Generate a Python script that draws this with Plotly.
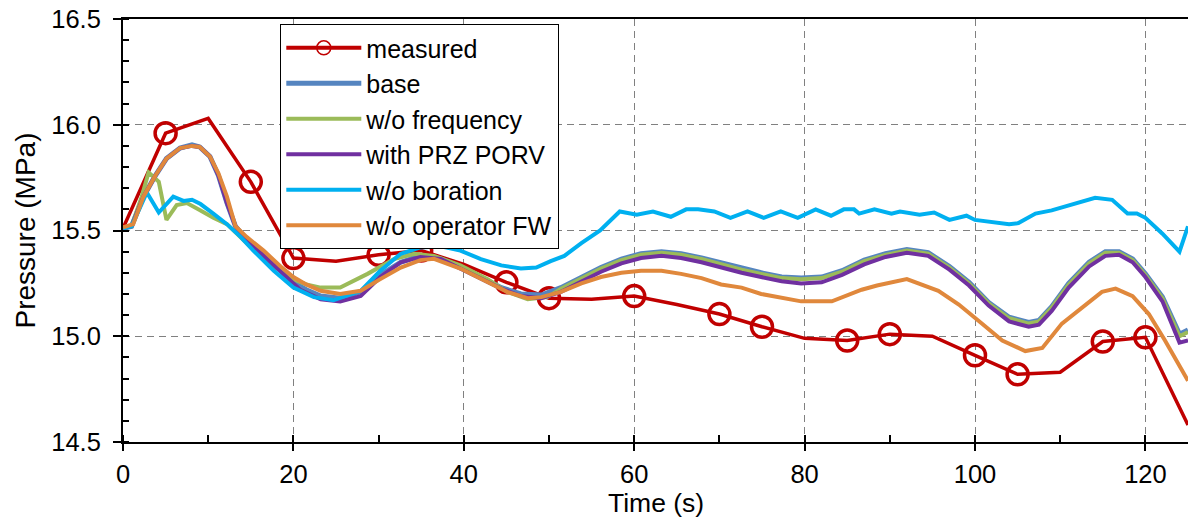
import plotly.graph_objects as go

# ---- measured plant data (every 5 s) ----
meas_t = [0, 5, 10, 15, 20, 25, 30, 35, 40, 45, 50, 55, 60, 65, 70, 75, 80, 85,
          90, 95, 100, 105, 110, 115, 120, 125]
meas_p = [15.51, 15.96, 16.03, 15.73, 15.37, 15.355, 15.385, 15.405, 15.34, 15.255,
          15.18, 15.175, 15.19, 15.15, 15.105, 15.045, 14.99, 14.98, 15.01, 15.0,
          14.91, 14.82, 14.83, 14.975, 14.995, 14.58]
meas_marked = [0, 1, 0, 1, 1, 0, 1, 1, 0, 1, 1, 0, 1, 0, 1, 1, 0, 1, 1, 0, 1, 1, 0, 1, 1, 0]

# ---- simulation cases ----
base_t = [0, 1, 2.4, 3.8, 5.1, 6.7, 8.1, 9.0, 10.2, 11.2, 12.2, 13.2, 14.5, 16.5, 18.5,
          20, 21.5, 23.2, 25.5, 27.9, 30.2, 32.6, 34.9, 37.3, 39.6, 42, 44.4, 46.7,
          49.1, 51.4, 53.8, 56.1, 58.5, 60.8, 63.2, 65.5, 67.9, 70.2, 72.6, 74.9,
          77.3, 79.6, 82, 84.4, 87, 89.5, 92, 94.5, 97, 99.3, 101.6, 104, 106.3,
          107.5, 109, 111, 113.4, 115.3, 116.9, 118.5, 120, 122, 124, 125]
base_p = [15.51, 15.52, 15.66, 15.76, 15.84, 15.89, 15.905, 15.895, 15.85, 15.76,
          15.63, 15.52, 15.46, 15.385, 15.305, 15.255, 15.22, 15.19, 15.18, 15.21,
          15.29, 15.35, 15.38, 15.365, 15.33, 15.28, 15.23, 15.2, 15.195, 15.23,
          15.28, 15.325, 15.365, 15.39, 15.4, 15.39, 15.37, 15.345, 15.32, 15.3,
          15.28, 15.275, 15.28, 15.31, 15.36, 15.39, 15.41, 15.395, 15.33, 15.255,
          15.16, 15.09, 15.065, 15.075, 15.14, 15.25, 15.35, 15.4, 15.4, 15.365,
          15.295, 15.185, 15.01, 15.03]

nofreq_t = [0, 1, 2.2, 3.0, 4.2, 5.1, 6.3, 7.5, 9.1, 10.6, 12.2, 13.8, 15.3, 17.7, 20,
            21.5, 23.2, 25.5, 28.7, 31.8, 34.2, 36.5, 39.6, 42.8, 45.1, 47.5, 49.8,
            51.4, 53.8, 56.1, 58.5, 60.8, 63.2, 65.5, 67.9, 70.2, 72.6, 74.9, 77.3,
            79.6, 82, 84.4, 87, 89.5, 92, 94.5, 97, 99.3, 101.6, 104, 106.3, 107.5,
            109, 111, 113.4, 115.3, 116.9, 118.5, 120, 122, 124, 125]
nofreq_p = [15.51, 15.52, 15.66, 15.775, 15.73, 15.55, 15.62, 15.63, 15.595, 15.56,
            15.53, 15.47, 15.41, 15.33, 15.27, 15.245, 15.23, 15.23, 15.295, 15.365,
            15.39, 15.38, 15.335, 15.27, 15.21, 15.175, 15.185, 15.225, 15.275, 15.32,
            15.36, 15.385, 15.395, 15.385, 15.365, 15.34, 15.315, 15.295, 15.275,
            15.27, 15.275, 15.305, 15.355, 15.385, 15.405, 15.39, 15.325, 15.25,
            15.155, 15.085, 15.06, 15.07, 15.135, 15.245, 15.345, 15.395, 15.395,
            15.36, 15.29, 15.18, 15.0, 15.02]

porv_t = [0, 1, 2.4, 3.8, 5.1, 6.7, 8.1, 9.0, 10.2, 11.2, 12.2, 13.2, 14.5, 16.5, 18.5,
          20.8, 23.2, 25.5, 27.9, 30.2, 32.6, 34.9, 37.3, 39.6, 42, 44.4, 46.7, 49.1,
          51.4, 53.8, 56.1, 58.5, 60.8, 63.2, 65.5, 67.9, 70.2, 72.6, 74.9, 77.3,
          79.6, 82, 84.4, 87, 89.5, 92, 94.5, 97, 99.3, 101.6, 104, 106.3, 107.5,
          109, 111, 113.4, 115.3, 116.9, 118.5, 120, 122, 124, 125]
porv_p = [15.51, 15.52, 15.66, 15.76, 15.84, 15.89, 15.9, 15.895, 15.85, 15.76,
          15.63, 15.52, 15.455, 15.38, 15.3, 15.22, 15.175, 15.165, 15.19, 15.28,
          15.35, 15.375, 15.365, 15.32, 15.27, 15.225, 15.19, 15.18, 15.21, 15.26,
          15.305, 15.345, 15.37, 15.38, 15.37, 15.35, 15.325, 15.3, 15.28, 15.26,
          15.25, 15.255, 15.29, 15.34, 15.375, 15.395, 15.38, 15.315, 15.24, 15.145,
          15.07, 15.045, 15.055, 15.12, 15.23, 15.33, 15.38, 15.385, 15.35, 15.28,
          15.165, 14.97, 14.98]

nobor_t = [0, 1, 2.8, 4.2, 5.9, 7.1, 8.1, 9.1, 10.6, 12.2, 13.8, 15.3, 17.7, 20, 22.4,
           24.7, 27.9, 30.2, 32.6, 34.9, 37.3, 39.6, 42, 44.4, 46.7, 48.5, 50.2, 51.8,
           53.8, 56, 58.3, 60.3, 62.2, 64.3, 66.1, 67.5, 69.4, 71.3, 73.3, 75.2, 77.2,
           79.2, 81.3, 83.1, 84.6, 85.8, 86.4, 88.2, 90.2, 91.2, 93.5, 95.2, 97, 99,
           100, 102, 104, 105.1, 107.1, 109, 111, 112.6, 114.1, 116.1, 117.9, 119,
           120, 122, 124, 125]
nobor_p = [15.51, 15.52, 15.68, 15.585, 15.66, 15.64, 15.645, 15.625, 15.58, 15.53,
           15.47, 15.405, 15.31, 15.23, 15.185, 15.17, 15.215, 15.31, 15.39, 15.42,
           15.425, 15.405, 15.365, 15.335, 15.32, 15.325, 15.355, 15.38, 15.44, 15.5,
           15.59, 15.575, 15.59, 15.565, 15.6, 15.6, 15.59, 15.56, 15.59, 15.56, 15.59,
           15.56, 15.6, 15.57, 15.6, 15.6, 15.58, 15.6, 15.58, 15.59, 15.575, 15.585,
           15.55, 15.57, 15.55, 15.54, 15.53, 15.535, 15.58, 15.595, 15.62, 15.64,
           15.655, 15.645, 15.58, 15.58, 15.56, 15.485, 15.4, 15.52]

nofw_t = [0, 1.2, 2.4, 3.8, 5.1, 6.7, 8.1, 9.0, 10.2, 11.2, 12.2, 13.2, 14.5, 16.5, 18.5,
          20, 21.5, 23.2, 25.5, 27.9, 30.2, 32.6, 34.9, 36.5, 39.6, 42.8, 45.1, 47.5,
          49.1, 51.4, 53.8, 56.1, 58.5, 60.8, 63.2, 65.5, 67.9, 70.2, 72.6, 74.9, 77.3,
          79.6, 83.2, 84.7, 86.7, 88.5, 92, 95.7, 98.1, 100.8, 103.2, 105.9, 107.9,
          110.2, 113, 114.9, 116.5, 118.5, 120.4, 122.3, 125]
nofw_p = [15.515, 15.53, 15.66, 15.76, 15.84, 15.89, 15.9, 15.895, 15.85, 15.77, 15.66,
          15.52, 15.47, 15.405, 15.33, 15.28, 15.245, 15.215, 15.2, 15.215, 15.27,
          15.325, 15.36, 15.366, 15.32, 15.255, 15.21, 15.18, 15.185, 15.21, 15.25,
          15.28, 15.3, 15.31, 15.31, 15.295, 15.275, 15.245, 15.23, 15.2, 15.18,
          15.165, 15.165, 15.19, 15.22, 15.24, 15.27, 15.215, 15.15, 15.06, 14.98,
          14.93, 14.945, 15.06, 15.15, 15.21, 15.225, 15.19, 15.105, 14.98, 14.79]

FONT = "Liberation Sans, Arial, sans-serif"
RED = "#C00000"

fig = go.Figure()

# measured: line, circle markers on selected samples, and a legend entry
fig.add_trace(go.Scatter(x=meas_t, y=meas_p, mode="lines", showlegend=False,
                         line=dict(color=RED, width=3.5), legendgroup="m"))
fig.add_trace(go.Scatter(x=[t for t, k in zip(meas_t, meas_marked) if k],
                         y=[p for p, k in zip(meas_p, meas_marked) if k],
                         mode="markers", showlegend=False, legendgroup="m",
                         marker=dict(symbol="circle-open", size=21, color=RED,
                                     line=dict(color=RED, width=3.5))))
fig.add_trace(go.Scatter(x=[None], y=[None], mode="lines+markers", name="measured",
                         legendgroup="m",
                         line=dict(color=RED, width=4),
                         marker=dict(symbol="circle-open", size=14, color=RED,
                                     line=dict(color=RED, width=1.5))))

cases = [
    ("base", base_t, base_p, "#5585C0", 5),
    ("w/o frequency", nofreq_t, nofreq_p, "#9BBB59", 4),
    ("with PRZ PORV", porv_t, porv_p, "#7030A0", 4),
    ("w/o boration", nobor_t, nobor_p, "#00B0F0", 4),
    ("w/o operator FW", nofw_t, nofw_p, "#E0883C", 4),
]
for name, tt, pp, col, w in cases:
    fig.add_trace(go.Scatter(x=tt, y=pp, mode="lines", name=name, legendgroup=name,
                             line=dict(color=col, width=w)))

tick_font = dict(family=FONT, size=25.5, color="black")
title_font = dict(family=FONT, size=28, color="black")
xtitle_font = dict(family=FONT, size=26.5, color="black")
grid_style = dict(showgrid=True, gridcolor="#808080", gridwidth=1.4, griddash="7px,5px")

fig.update_layout(
    width=1188, height=519,
    margin=dict(l=123, r=0, t=19, b=77),
    paper_bgcolor="white", plot_bgcolor="white",
    font=dict(family=FONT, size=24, color="black"),
    xaxis=dict(range=[0, 125], tickmode="array", tickvals=[0, 20, 40, 60, 80, 100, 120],
               ticks="outside", ticklen=7, tickwidth=1.5, tickcolor="black",
               ticklabelstandoff=1,
               minor=dict(dtick=10, ticks="inside", ticklen=7, tickwidth=1.5,
                          tickcolor="black", showgrid=False),
               showline=True, linecolor="black", linewidth=2, mirror=True,
               zeroline=False, tickfont=tick_font,
               **grid_style),
    yaxis=dict(range=[14.5, 16.5], tickmode="array", tickvals=[14.5, 15.0, 15.5, 16.0, 16.5],
               tickformat=".1f",
               ticks="outside", ticklen=8, tickwidth=1.5, tickcolor="black",
               ticklabelstandoff=7,
               minor=dict(dtick=0.1, ticks="inside", ticklen=6, tickwidth=1.5,
                          tickcolor="black", showgrid=False),
               showline=True, linecolor="black", linewidth=2,
               zeroline=False, tickfont=tick_font,
               title=dict(text="Pressure (MPa)", font=title_font, standoff=7),
               **grid_style),
    # overlay axes carrying the inner half of the major ticks
    xaxis2=dict(overlaying="x", anchor="y", side="bottom", range=[0, 125],
                tickmode="array", tickvals=[20, 40, 60, 80, 100, 120],
                ticks="inside", ticklen=7, tickwidth=1.5, tickcolor="black",
                showticklabels=False, showgrid=False, showline=False, zeroline=False),
    yaxis2=dict(overlaying="y", anchor="x", side="left", range=[14.5, 16.5],
                tickmode="array", tickvals=[15.0, 15.5, 16.0],
                ticks="inside", ticklen=6, tickwidth=1.5, tickcolor="black",
                showticklabels=False, showgrid=False, showline=False, zeroline=False),
    legend=dict(x=0.1477, y=0.988, xanchor="left", yanchor="top",
                bgcolor="white", bordercolor="black", borderwidth=1,
                font=dict(family=FONT, size=25, color="black"),
                itemwidth=75, tracegroupgap=0, traceorder="normal"),
)

# x-axis title placed below the tick labels
fig.add_annotation(text="Time (s)", xref="paper", yref="paper", x=0.5, y=-0.144,
                   xanchor="center", yanchor="middle", showarrow=False, font=xtitle_font)

fig.write_html("out.html")
